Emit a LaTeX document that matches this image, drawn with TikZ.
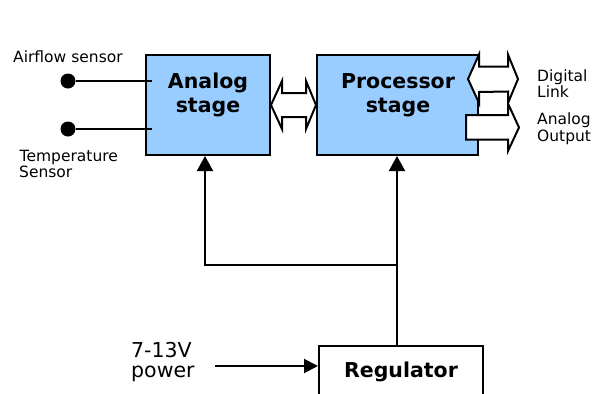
\documentclass[tikz,border=0pt]{standalone}
\usepackage{fontspec}
\setmainfont{DejaVu Sans}
\usetikzlibrary{arrows.meta,calc}
\definecolor{boxblue}{RGB}{153,204,255}
\begin{document}
\begin{tikzpicture}[x=1pt,y=-1pt,
  stagebox/.style={draw=black,line width=2pt,fill=boxblue,minimum height=100pt,inner sep=0pt},
  regbox/.style={draw=black,line width=2pt,fill=white,inner sep=0pt},
  bigtxt/.style={font=\fontsize{20.5}{24}\selectfont\bfseries,inner sep=0pt},
  smalltxt/.style={font=\fontsize{15.5}{17}\selectfont,inner sep=0pt,anchor=base west},
  powtxt/.style={font=\fontsize{20.5}{24}\selectfont,inner sep=0pt,anchor=base west},
  conn/.style={line width=2pt},
  tip/.style={-{Triangle[length=15pt,width=16pt]}},
  fatarrow/.style={draw=black,line width=2pt,fill=white,line join=miter},
  dot/.style={circle,fill=black,minimum size=15pt,inner sep=0pt}
]
\clip (0,0) rectangle (598,394);
\fill[white] (0,0) rectangle (598,394);

% boxes
\node[stagebox,minimum width=124pt] (analog) at (208,105) {};
\node[stagebox,minimum width=161pt] (proc) at (397.5,105) {};
\node[regbox,minimum width=164pt,minimum height=56pt] (reg) at (401,374) {};

% sensors
\node[dot] (air) at (68,81) {};
\node[dot] (temp) at (68,129) {};
\coordinate (airend) at ($(analog.west |- air)+(7,0)$);
\coordinate (tempend) at ($(analog.west |- temp)+(7,0)$);
\draw[conn] (air) -- (airend);
\draw[conn] (temp) -- (tempend);

% double arrow between stages
\draw[fatarrow] (analog.east) -- ++(11,-24) -- ++(0,12)
  -- ($(proc.west)+(-10,-12)$) -- ++(0,-12) -- (proc.west)
  -- ++(-10,24) -- ++(0,-12) -- ($(analog.east)+(11,12)$) -- ++(0,12) -- cycle;

% digital link (double arrow)
\coordinate (dlL) at ($(proc.north east)+(-11,25)$);
\coordinate (dlR) at ($(dlL)+(50,0)$);
\draw[fatarrow] (dlL) -- ++(11,-24.5) -- ++(0,12) -- ($(dlR)+(-10,-12.5)$)
  -- ++(0,-12) -- (dlR) -- ++(-10,24) -- ++(0,-11.5) -- ($(dlL)+(11,13)$)
  -- ++(0,11) -- cycle;

% analog output (single arrow)
\coordinate (aoL) at ($(proc.east)+(-13,22.5)$);
\coordinate (aoR) at ($(aoL)+(53,0)$);
\draw[fatarrow] ($(aoL)+(0,-12.5)$) -- ($(aoR)+(-11,-12.5)$) -- ++(0,-11.5)
  -- (aoR) -- ++(-11,23.5) -- ++(0,-11.5) -- ($(aoL)+(0,12)$) -- cycle;

% power distribution
\coordinate (j1) at (205,265);
\coordinate (j2) at (397,265);
\draw[conn,tip] (reg.north -| j2) -- (j2 |- proc.south);
\draw[conn,tip] (j2) -- (j1) -- (j1 |- analog.south);

% power input
\coordinate (pw) at (215,366);
\draw[conn,-{Triangle[length=14pt,width=14pt]}] (pw) -- (pw -| reg.west);

% texts
\node[bigtxt,anchor=base] (at1) at (208,88) {Analog};
\node[bigtxt,anchor=base] (at2) at (208,112) {stage};
\node[bigtxt,anchor=base] (pt1) at (398,88) {Processor};
\node[bigtxt,anchor=base] (pt2) at (398,112) {stage};
\node[bigtxt,anchor=base] (rt) at (401,377) {Regulator};

\node[smalltxt] (airlbl) at (13,62) {Airflow sensor};
\node[smalltxt] (templbl1) at (19.5,161) {Temperature};
\node[smalltxt] (templbl2) at (19,177) {Sensor};
\node[smalltxt] (dl1) at (537,81) {Digital};
\node[smalltxt] (dl2) at (537,97) {Link};
\node[smalltxt] (ao1) at (537,124) {Analog};
\node[smalltxt] (ao2) at (537,141) {Output};
\node[powtxt] (pw1) at (131,357) {7-13V};
\node[powtxt] (pw2) at (131,377) {power};
\end{tikzpicture}
\end{document}
